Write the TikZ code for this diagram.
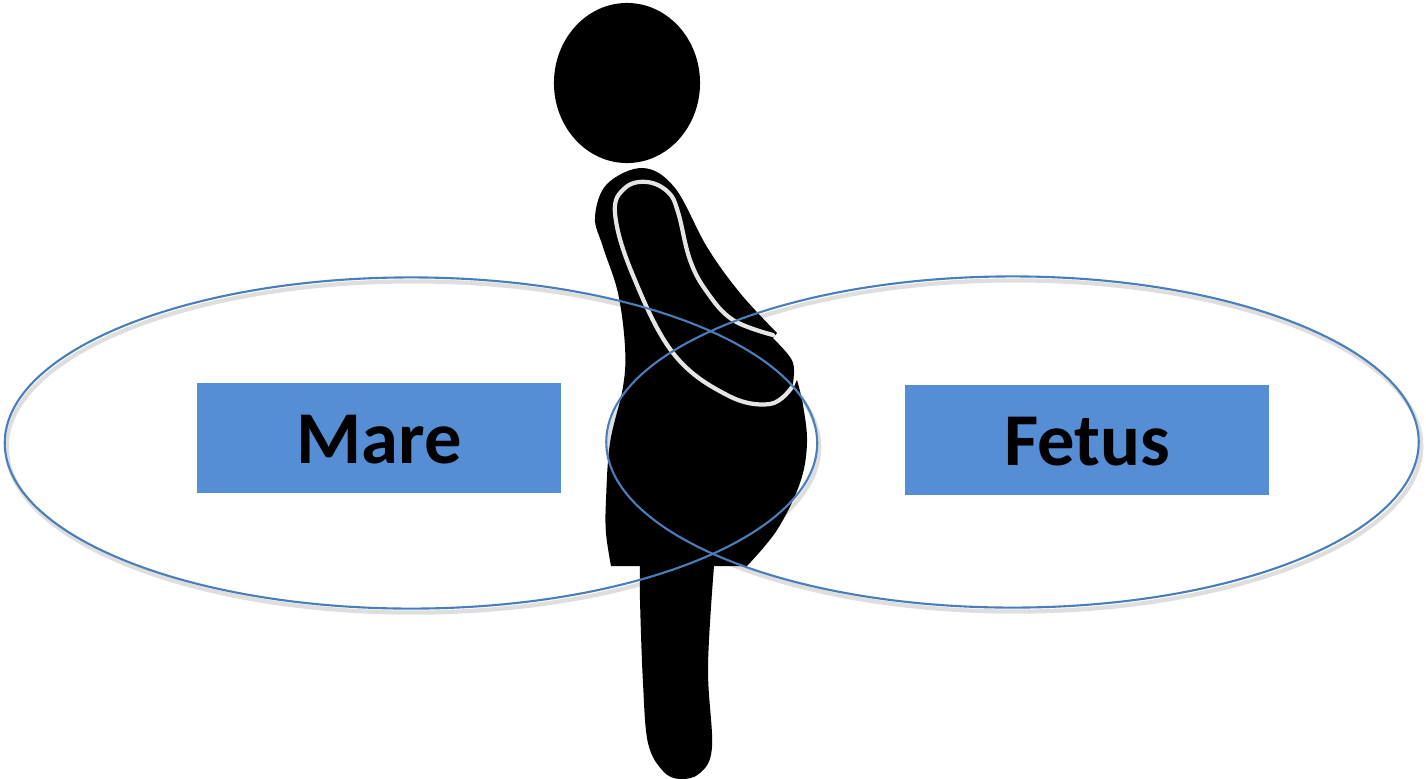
\documentclass[tikz,border=0pt]{standalone}
\usepackage{fontspec}
\setmainfont{Carlito}
\usetikzlibrary{shapes.geometric}
\definecolor{boxblue}{HTML}{558ED5}
\definecolor{ringblue}{HTML}{4A7EBB}
\tikzset{
  ring/.style={draw=ringblue, line width=0.6pt, ellipse, minimum width=8.12cm, minimum height=3.31cm, inner sep=0pt},
  ringshade/.style={draw=black!13, line width=1.2pt, ellipse, minimum width=8.12cm, minimum height=3.31cm, inner sep=0pt},
  namebox/.style={fill=boxblue, minimum width=3.64cm, minimum height=1.10cm, inner sep=0pt, text height=0.50cm, text depth=0cm, font=\fontsize{21.2}{25}\selectfont\bfseries}
}
\begin{document}
\begin{tikzpicture}[x=0.01cm, y=-0.01cm]
  \useasboundingbox (0,0) rectangle (1426,778);

  % soft edge under the rings
  \node[ringshade] (mareshade) at (413,447) {};
  \node[ringshade] (fetusshade) at (1015,446) {};

  % head and body
  \node[fill=black, ellipse, minimum width=1.46cm, minimum height=1.60cm, inner sep=0pt] (head) at (627,83) {};
  \fill[black] plot[smooth, tension=0.6] coordinates {(777,333) (740,293) (707,247) (675,188) (643,168) (607,184) (595,217) (603,247) (618,293) (625,347) (623,387) (610,443) (606,500) (606,533) (611,566)}
    -- (640,566)
    -- plot[smooth, tension=0.6] coordinates {(640,566) (640,600) (643,683) (648,743) (663,771) (680,779) (700,773) (712,747) (708,667) (714,566)}
    -- (747,566)
    -- plot[smooth, tension=0.6] coordinates {(747,566) (777,530) (800,483) (807,443) (803,405) (797,380)}
    -- (792,391)
    -- plot[smooth, tension=0.6] coordinates {(792,391) (794,370) (790,357) (773,338)}
    -- cycle;

  % arm line
  \draw[white!90!black, line width=1.2pt, line cap=round] plot[smooth, tension=0.65] coordinates {(773,335) (733,320) (707,292) (690,260) (678,212) (668,192) (647,182) (625,188) (615,213) (632,273) (673,353) (727,395) (770,404) (792,387)};

  % the two rings
  \node[ring] (mare) at (411,443) {};
  \node[ring] (fetus) at (1012.5,442) {};

  \node[namebox] (marebox) at (379,438) {Mare};
  \node[namebox] (fetusbox) at (1087,440) {Fetus};
\end{tikzpicture}
\end{document}
